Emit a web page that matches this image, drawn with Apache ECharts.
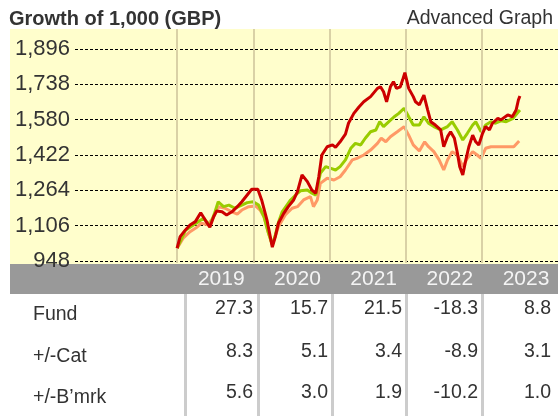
<!DOCTYPE html>
<html>
<head>
<meta charset="utf-8">
<script src="https://cdn.jsdelivr.net/npm/echarts@6/dist/echarts.min.js"></script>
<style>
html, body { margin: 0; padding: 0; background: #fff; }
#chart { width: 558px; height: 416px; }
</style>
</head>
<body>
<div id="chart"></div>
<script>
// growth of 1,000 (x in decimal years)
var years = [2019, 2020, 2021, 2022, 2023];

var fundDates = [2019.00,2019.04,2019.11,2019.17,2019.24,2019.31,2019.37,2019.43,2019.48,2019.52,2019.59,2019.65,2019.72,2019.79,2019.85,2019.92,2019.98,
    2020.06,2020.11,2020.18,2020.25,2020.29,2020.33,2020.40,2020.46,2020.53,2020.58,2020.64,2020.71,2020.77,2020.82,2020.86,2020.90,2020.97,
    2021.04,2021.08,2021.14,2021.21,2021.25,2021.32,2021.39,2021.45,2021.54,2021.63,2021.67,2021.71,2021.75,2021.80,2021.84,2021.88,2021.93,2021.96,2021.99,
    2022.04,2022.10,2022.13,2022.18,2022.24,2022.29,2022.33,2022.39,2022.46,2022.50,2022.55,2022.59,2022.64,2022.68,2022.71,2022.75,2022.79,2022.83,2022.88,2022.92,2022.96,
    2023.01,2023.05,2023.10,2023.14,2023.21,2023.25,2023.34,2023.40,2023.45,2023.48,2023.50];
var fundValues = [1005,1057,1087,1109,1124,1164,1131,1099,1146,1172,1168,1154,1168,1191,1213,1243,1269,
    1269,1221,1131,1010,1057,1117,1161,1191,1221,1258,1333,1303,1265,1251,1325,1422,1459,
    1467,1456,1481,1515,1564,1608,1638,1660,1683,1720,1727,1705,1660,1727,1750,1720,1727,1757,1790,
    1720,1683,1660,1646,1690,1623,1571,1556,1534,1459,1504,1526,1497,1430,1370,1333,1400,1459,1511,1481,1467,
    1519,1549,1534,1564,1586,1579,1601,1593,1623,1668,1686];

var catDates = [2019.00,2019.11,2019.24,2019.35,2019.43,2019.49,2019.54,2019.61,2019.68,2019.76,2019.85,2019.92,
    2020.00,2020.07,2020.14,2020.20,2020.25,2020.29,2020.33,2020.38,2020.49,2020.58,2020.62,2020.71,2020.77,2020.82,2020.88,2020.95,
    2021.01,2021.08,2021.14,2021.21,2021.28,2021.34,2021.41,2021.47,2021.54,2021.61,2021.66,2021.71,2021.78,2021.85,2021.91,2021.98,
    2022.04,2022.10,2022.18,2022.24,2022.30,2022.37,2022.46,2022.55,2022.61,2022.68,2022.75,2022.81,2022.88,2022.92,2022.99,
    2023.05,2023.12,2023.18,2023.25,2023.32,2023.41,2023.50];
var catValues = [1005,1085,1115,1140,1105,1160,1213,1191,1198,1184,1198,1209,
    1213,1198,1146,1072,1020,1065,1120,1168,1221,1251,1262,1265,1251,1243,1340,1370,
    1363,1355,1370,1400,1452,1474,1467,1497,1526,1534,1571,1549,1571,1593,1608,1631,
    1593,1556,1556,1593,1564,1549,1534,1549,1571,1534,1489,1519,1556,1571,1526,
    1556,1571,1564,1575,1571,1586,1623];

var idxDates = [2019.00,2019.08,2019.17,2019.26,2019.32,2019.40,2019.47,2019.54,2019.63,2019.72,2019.79,2019.85,2019.94,
    2020.03,2020.09,2020.14,2020.20,2020.25,2020.33,2020.42,2020.51,2020.58,2020.66,2020.75,2020.79,2020.84,2020.88,2020.97,
    2021.06,2021.14,2021.21,2021.30,2021.36,2021.45,2021.54,2021.63,2021.68,2021.74,2021.80,2021.89,2021.98,
    2022.04,2022.10,2022.18,2022.25,2022.30,2022.37,2022.44,2022.50,2022.55,2022.61,2022.68,2022.75,2022.81,2022.88,2022.94,2022.99,
    2023.05,2023.12,2023.25,2023.42,2023.49];
var idxValues = [1005,1050,1079,1099,1117,1110,1140,1191,1184,1168,1158,1176,1191,
    1194,1176,1146,1072,1020,1101,1154,1184,1191,1221,1236,1191,1221,1295,1318,
    1310,1325,1355,1400,1407,1422,1444,1474,1497,1481,1504,1526,1549,
    1511,1467,1440,1481,1459,1437,1400,1355,1400,1437,1422,1370,1407,1437,1422,1407,
    1452,1459,1459,1459,1485];

var yMin = 948, yMax = 1896, yStep = 158;

// table under the chart
var rowLabels = ['Fund', '+/-Cat', '+/-B\u2019mrk'];
var fundReturns = [27.3, 15.7, 21.5, -18.3, 8.8];
var catDiff = [8.3, 5.1, 3.4, -8.9, 3.1];
var bmrkDiff = [5.6, 3.0, 1.9, -10.2, 1.0];

var font = '"Liberation Sans", Arial, sans-serif';

function zip(xs, ys) {
    var out = [];
    for (var i = 0; i < xs.length; i++) out.push([xs[i], ys[i]]);
    return out;
}

function comma(v) {
    return String(v).replace(/\B(?=(\d{3})+(?!\d))/g, ',');
}

var myChart = echarts.init(document.getElementById('chart'));

// background, band, header texts and table
var graphics = [
    { type: 'rect', z: -10, shape: { x: 10, y: 29, width: 548, height: 235 }, style: { fill: '#FFFECC' } },
    { type: 'rect', z: -10, shape: { x: 10, y: 264, width: 548, height: 30 }, style: { fill: '#999999' } },
    { type: 'text', left: 9, top: 9, style: { text: 'Growth of 1,000 (GBP)', font: 'bold 20px ' + font, fill: '#333' } },
    { type: 'text', right: 5, top: 9, style: { text: 'Advanced Graph', font: '19.5px ' + font, fill: '#333' } }
];

var sepX = [184, 257, 331, 405, 481];
for (var s = 0; s < sepX.length; s++) {
    graphics.push({ type: 'rect', z: -10, shape: { x: sepX[s], y: 294, width: 3, height: 122 }, style: { fill: '#CCCCCC' } });
}

var rows = [fundReturns, catDiff, bmrkDiff];
var rowLabelY = [315, 357, 398];
var rowValueY = [309, 352, 393];
var colRight = [253, 328, 402, 478, 551];
for (var r = 0; r < rows.length; r++) {
    graphics.push({ type: 'text', x: 33, y: rowLabelY[r], style: { text: rowLabels[r], font: '19.5px ' + font, fill: '#333', verticalAlign: 'middle' } });
    for (var c = 0; c < rows[r].length; c++) {
        graphics.push({ type: 'text', x: colRight[c], y: rowValueY[r], style: { text: rows[r][c].toFixed(1), font: '19.5px ' + font, fill: '#333', textAlign: 'right', verticalAlign: 'middle' } });
    }
}

option = {
    animation: false,
    graphic: graphics,
    grid: [
        { left: 75, right: 0, top: 49, bottom: 155 },
        // taller grid only used for the year divider lines
        { left: 75, right: 0, top: 29, bottom: 153 }
    ],
    xAxis: [
        {
            type: 'value',
            gridIndex: 0,
            min: 2017.66,
            max: 2024.0,
            axisLine: { show: false },
            axisTick: { show: false },
            splitLine: { show: false },
            axisLabel: {
                customValues: years.map(function (y) { return y + 0.58; }),
                formatter: function (v) { return String(Math.floor(v)); },
                color: '#F4F4F4',
                fontFamily: font,
                fontSize: 21,
                margin: 8
            }
        },
        { type: 'value', gridIndex: 1, min: 2017.66, max: 2024.0, show: false, splitLine: { show: false } }
    ],
    yAxis: [
        {
            type: 'value',
            gridIndex: 0,
            min: yMin,
            max: yMax,
            interval: yStep,
            axisLine: { show: false },
            axisTick: { show: false },
            axisLabel: {
                formatter: comma,
                color: '#333',
                fontFamily: font,
                fontSize: 22,
                margin: 5,
                padding: [0, 0, 13, 0]
            },
            splitLine: { lineStyle: { color: '#000', width: 1, type: [3, 2] } }
        },
        { type: 'value', gridIndex: 1, min: 0, max: 1, show: false, splitLine: { show: false } }
    ],
    series: [
        {
            name: 'Years', type: 'scatter', xAxisIndex: 1, yAxisIndex: 1, symbolSize: 0,
            data: years.map(function (y) { return [y, 0.5]; }), silent: true, z: 1,
            markLine: {
                silent: true, symbol: ['none', 'none'], label: { show: false },
                lineStyle: { color: '#D9D1A6', width: 2, type: 'solid' },
                data: years.map(function (y) { return { xAxis: y }; })
            }
        },
        { name: 'Index', type: 'line', data: zip(idxDates, idxValues), showSymbol: false, symbol: 'none', lineStyle: { color: '#FF9966', width: 3 }, z: 3 },
        { name: 'Category', type: 'line', data: zip(catDates, catValues), showSymbol: false, symbol: 'none', lineStyle: { color: '#99CC00', width: 3 }, z: 4 },
        { name: 'Fund', type: 'line', data: zip(fundDates, fundValues), showSymbol: false, symbol: 'none', lineStyle: { color: '#CC0000', width: 3 }, z: 5 }
    ]
};

myChart.setOption(option, true);
</script>
</body>
</html>
